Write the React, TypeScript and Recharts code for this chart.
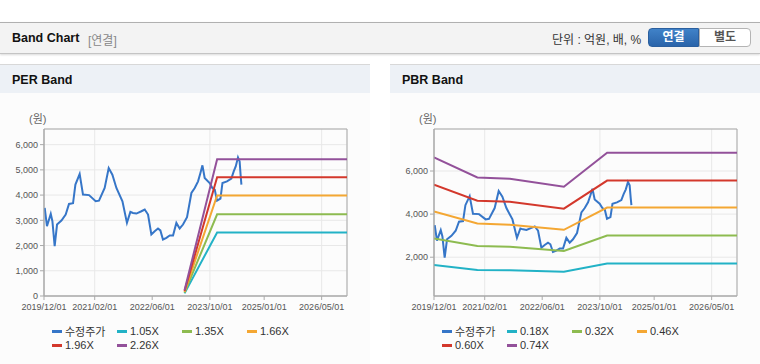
import React from 'react';
import { LineChart, Line, XAxis, YAxis, CartesianGrid, ReferenceArea } from 'recharts';

// x axis (dates)
const axisStart = '2019/12/01';
const axisEnd = '2026/12/01';
const tickDates = ['2019/12/01', '2021/02/01', '2022/06/01', '2023/10/01', '2025/01/01', '2026/05/01'];

// 수정주가 (adjusted price), shared by both charts
const priceDates = [
  '2019/12/07', '2019/12/26', '2020/01/27', '2020/02/10', '2020/02/29', '2020/03/20', '2020/04/26',
  '2020/06/01', '2020/06/29', '2020/08/02', '2020/08/22', '2020/09/27', '2020/10/25', '2020/12/15',
  '2021/02/09', '2021/03/09', '2021/04/26', '2021/05/30', '2021/06/30', '2021/08/03', '2021/09/23',
  '2021/10/31', '2021/11/29', '2021/12/21', '2022/01/19', '2022/03/02', '2022/03/30', '2022/04/27',
  '2022/05/25', '2022/06/22', '2022/07/20', '2022/08/09', '2022/08/31', '2022/09/29', '2022/10/27',
  '2022/11/24', '2022/12/22', '2023/01/19', '2023/02/16', '2023/03/22', '2023/04/28', '2023/05/26',
  '2023/06/23', '2023/07/13', '2023/07/30', '2023/08/18', '2023/09/29', '2023/10/22', '2023/11/11',
  '2023/11/30', '2023/12/29', '2024/01/15', '2024/02/22', '2024/03/30', '2024/04/19', '2024/05/06',
  '2024/05/25', '2024/06/08', '2024/06/17', '2024/06/23',
];
const priceValues = [
  3490, 2767, 3253, 2964, 1976, 2833, 2990,
  3229, 3648, 3676, 4415, 4834, 4020, 4000,
  3755, 3780, 4281, 5072, 4809, 4281, 3755,
  2898, 3333, 3293, 3268, 3360, 3427, 3229,
  2439, 2569, 2676, 2600, 2240, 2306, 2399,
  2399, 2898, 2676, 2833, 3123, 4083, 4281,
  4545, 4874, 5178, 4677, 4480, 4281, 4216,
  3781, 3860, 4480, 4545, 4652, 4940, 5138,
  5494, 5336, 4743, 4415,
];

// PER band
const perDates = ['2023/03/01', '2023/12/01', '2026/12/01'];
const per105 = [105, 2520, 2520];
const per135 = [135, 3240, 3240];
const per166 = [166, 3984, 3984];
const per196 = [196, 4704, 4704];
const per226 = [226, 5424, 5424];

// PBR band
const pbrDates = ['2019/12/01', '2020/12/01', '2021/09/01', '2022/12/01', '2023/12/01', '2026/12/01'];
const pbr018 = [1642, 1409, 1400, 1330, 1710, 1710];
const pbr032 = [2865, 2526, 2480, 2293, 3010, 3010];
const pbr046 = [4120, 3563, 3510, 3270, 4307, 4307];
const pbr060 = [5363, 4619, 4570, 4255, 5555, 5555];
const pbr074 = [6633, 5700, 5640, 5270, 6850, 6850];

const colors = {
  price: '#3676c8',
  c1: '#22b2c6',
  c2: '#8dbb50',
  c3: '#f4a733',
  c4: '#d3382c',
  c5: '#93519a',
};

const FONT = '"Liberation Sans", "Noto Sans CJK KR", sans-serif';

const toT = (s: string) => {
  const [y, m, d] = s.split('/').map(Number);
  return Date.UTC(y, m - 1, d);
};

const series = (dates: string[], values: number[]) => dates.map((d, i) => ({ t: toT(d), v: values[i] }));

const fmtDate = (t: number) => {
  const d = new Date(t);
  const p = (n: number) => String(n).padStart(2, '0');
  return `${d.getUTCFullYear()}/${p(d.getUTCMonth() + 1)}/${p(d.getUTCDate())}`;
};

type Band = { name: string; color: string; data: { t: number; v: number }[] };

const BandPanel: React.FC<{
  left: number;
  title: string;
  bands: Band[];
  yDomain: [number, number];
  yTicks: number[];
}> = ({ left, title, bands, yDomain, yTicks }) => {
  const priceData = series(priceDates, priceValues);
  const legendItems = [{ name: '수정주가', color: colors.price }, ...bands];
  const T0 = toT(axisStart);
  const T1 = toT(axisEnd);
  return (
    <div style={{ position: 'absolute', left, top: 64, width: 370, height: 299, background: '#fcfcfc', borderTop: '1px solid #d8d8d8', borderBottom: '1px solid #dcdcdc' }}>
      <div style={{ height: 28, background: '#edf1f6', fontWeight: 'bold', fontSize: 12.5, lineHeight: '31px', paddingLeft: 12, color: '#111', boxSizing: 'border-box' }}>
        {title}
      </div>
      <div style={{ position: 'absolute', left: 29, top: 45, fontSize: 11, color: '#666' }}>(원)</div>
      <div style={{ position: 'absolute', left: 0, top: 56 }}>
        <LineChart width={370} height={200} margin={{ top: 8, right: 23, bottom: 0, left: 4 }}>
          <CartesianGrid stroke="#e8e8e8" />
          <XAxis
            dataKey="t"
            type="number"
            domain={[T0, T1]}
            ticks={tickDates.map(toT)}
            tickFormatter={fmtDate}
            height={25}
            tickSize={4}
            tickMargin={4}
            stroke="#aaa"
            tick={{ fontSize: 9, fill: '#555', fontFamily: FONT }}
            allowDataOverflow
          />
          <YAxis
            type="number"
            domain={yDomain}
            ticks={yTicks}
            tickFormatter={(v: number) => v.toLocaleString('en-US')}
            width={40}
            tickSize={4}
            tickMargin={2}
            stroke="#aaa"
            tick={{ fontSize: 9, fill: '#555', fontFamily: FONT }}
            allowDataOverflow
          />
          <ReferenceArea x1={T0} x2={T1} y1={yDomain[0]} y2={yDomain[1]} fill="none" stroke="#aaa" strokeWidth={1} />
          <Line data={priceData} dataKey="v" type="linear" stroke={colors.price} strokeWidth={2} dot={false} isAnimationActive={false} />
          {bands.map((b) => (
            <Line key={b.name} data={b.data} dataKey="v" type="linear" stroke={b.color} strokeWidth={2} dot={false} isAnimationActive={false} />
          ))}
        </LineChart>
      </div>
      <div style={{ position: 'absolute', left: 52, top: 259, width: 280, display: 'flex', flexWrap: 'wrap', fontFamily: FONT, fontSize: 11, color: '#333' }}>
        {legendItems.map((it) => (
          <div key={it.name} style={{ width: 65, height: 14, display: 'flex', alignItems: 'center' }}>
            <span style={{ display: 'inline-block', width: 10, height: 3, background: it.color, marginRight: 3 }} />
            <span>{it.name}</span>
          </div>
        ))}
      </div>
    </div>
  );
};

export default function App() {
  const perBands: Band[] = [
    { name: '1.05X', color: colors.c1, data: series(perDates, per105) },
    { name: '1.35X', color: colors.c2, data: series(perDates, per135) },
    { name: '1.66X', color: colors.c3, data: series(perDates, per166) },
    { name: '1.96X', color: colors.c4, data: series(perDates, per196) },
    { name: '2.26X', color: colors.c5, data: series(perDates, per226) },
  ];
  const pbrBands: Band[] = [
    { name: '0.18X', color: colors.c1, data: series(pbrDates, pbr018) },
    { name: '0.32X', color: colors.c2, data: series(pbrDates, pbr032) },
    { name: '0.46X', color: colors.c3, data: series(pbrDates, pbr046) },
    { name: '0.60X', color: colors.c4, data: series(pbrDates, pbr060) },
    { name: '0.74X', color: colors.c5, data: series(pbrDates, pbr074) },
  ];

  return (
    <div style={{ position: 'absolute', left: 0, top: 0, width: 760, height: 364, background: '#fff', fontFamily: FONT, overflow: 'hidden' }}>
      {/* header bar */}
      <div style={{ position: 'absolute', left: 0, top: 22, width: 760, height: 30, background: '#f3f3f3', borderTop: '1px solid #b0b0b0', borderBottom: '1px solid #c4c4c4', boxShadow: '0 1px 2px rgba(0,0,0,0.15)' }}>
        <span style={{ position: 'absolute', left: 12, top: 8, fontSize: 12.5, fontWeight: 'bold', color: '#111' }}>Band Chart</span>
        <span style={{ position: 'absolute', left: 88, top: 8, fontSize: 12, color: '#888' }}>[연결]</span>
        <span style={{ position: 'absolute', left: 552, top: 7, fontSize: 12, color: '#333' }}>단위 : 억원, 배, %</span>
        <div style={{ position: 'absolute', left: 648, top: 5, width: 51, height: 19, background: 'linear-gradient(#4082c8, #2a64aa)', border: '1px solid #2b5f9e', borderRadius: '4px 0 0 4px', color: '#fff', fontSize: 12, fontWeight: 'bold', textAlign: 'center', lineHeight: '17px', boxSizing: 'border-box' }}>연결</div>
        <div style={{ position: 'absolute', left: 699, top: 5, width: 52, height: 19, background: '#fff', border: '1px solid #b4b4b4', borderRadius: '0 4px 4px 0', color: '#555', fontSize: 12, fontWeight: 'bold', textAlign: 'center', lineHeight: '17px', boxSizing: 'border-box' }}>별도</div>
      </div>

      <BandPanel left={0} title="PER Band" bands={perBands} yDomain={[0, 6620]} yTicks={[0, 1000, 2000, 3000, 4000, 5000, 6000]} />
      <BandPanel left={390} title="PBR Band" bands={pbrBands} yDomain={[200, 7950]} yTicks={[2000, 4000, 6000]} />
    </div>
  );
}
